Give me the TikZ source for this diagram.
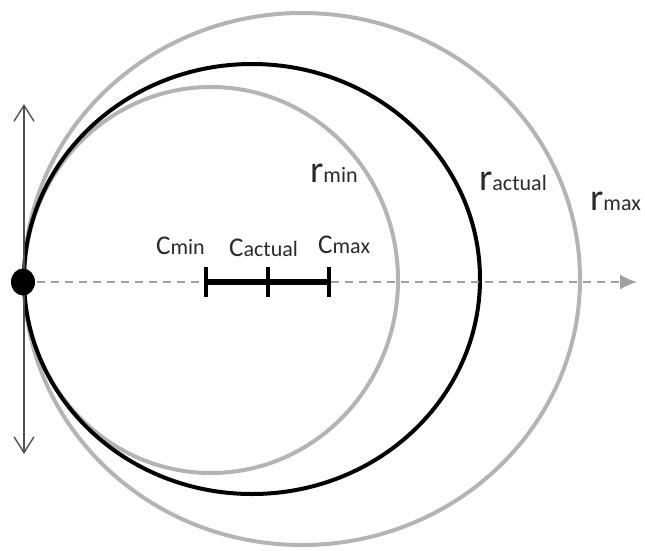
\documentclass[tikz,border=0pt]{standalone}
\usepackage{fontspec}
\setmainfont{Carlito}
\usetikzlibrary{arrows.meta}
\definecolor{ringgray}{HTML}{B4B4B4}
\definecolor{dashgray}{HTML}{A0A0A0}
\definecolor{axisgray}{HTML}{505050}
\definecolor{txt}{HTML}{2A2A2A}
\newcommand\clabel[2]{{\fontsize{27}{27}\selectfont #1}{\fontsize{22}{22}\selectfont #2}}
\newcommand\rlabel[2]{{\fontsize{38}{38}\selectfont #1}{\fontsize{22}{22}\selectfont #2}}
\tikzset{
  graycircle/.style={draw=ringgray, line width=4pt},
  blackcircle/.style={draw=black, line width=4pt},
  dashaxis/.style={draw=dashgray, line width=1.8pt, dash pattern=on 8pt off 6pt, -{Latex[length=17pt,width=15pt]}},
  tangent/.style={draw=axisgray, line width=1.4pt, {Straight Barb[length=16pt,width=20pt]}-{Straight Barb[length=16pt,width=20pt]}},
  segbar/.style={draw=black, line width=6pt},
  segtick/.style={draw=black, line width=4pt},
  lbl/.style={anchor=base west, inner sep=0pt, text=txt}
}
\begin{document}
\begin{tikzpicture}[x=1pt,y=-1pt]
\useasboundingbox (0,0) rectangle (645,550);
% circles
\draw[graycircle] (302,279) ellipse [x radius=278, y radius=266];
\draw[graycircle] (211,280) ellipse [x radius=187, y radius=193];
\draw[blackcircle] (252,279) ellipse [x radius=228, y radius=215];
% coordinates
\coordinate (P) at (23,282);
\coordinate (axisend) at (637,282);
\coordinate (ttop) at (24,104);
\coordinate (tbot) at (24,454);
\coordinate (cmin) at (206,282);
\coordinate (cact) at (268,282);
\coordinate (cmax) at (329,282);
% dashed axis
\draw[dashaxis] (P) -- (axisend);
% tangent
\draw[tangent] (ttop) -- (tbot);
% point
\fill[black] (P) ellipse [x radius=12, y radius=13.5];
% center segment
\draw[segbar] (cmin) -- (cmax);
\foreach \c in {cmin,cact,cmax}
  \draw[segtick] ([yshift=-15pt]\c) -- ([yshift=15pt]\c);
% labels
\node[lbl] (lcmin) at (156,254) {\clabel{C}{min}};
\node[lbl] (lcact) at (229,256) {\clabel{C}{actual}};
\node[lbl] (lcmax) at (318,253) {\clabel{C}{max}};
\node[lbl] (lrmin) at (310,182) {\rlabel{r}{min}};
\node[lbl] (lract) at (479,190) {\rlabel{r}{actual}};
\node[lbl] (lrmax) at (590,210) {\rlabel{r}{max}};
\end{tikzpicture}
\end{document}
